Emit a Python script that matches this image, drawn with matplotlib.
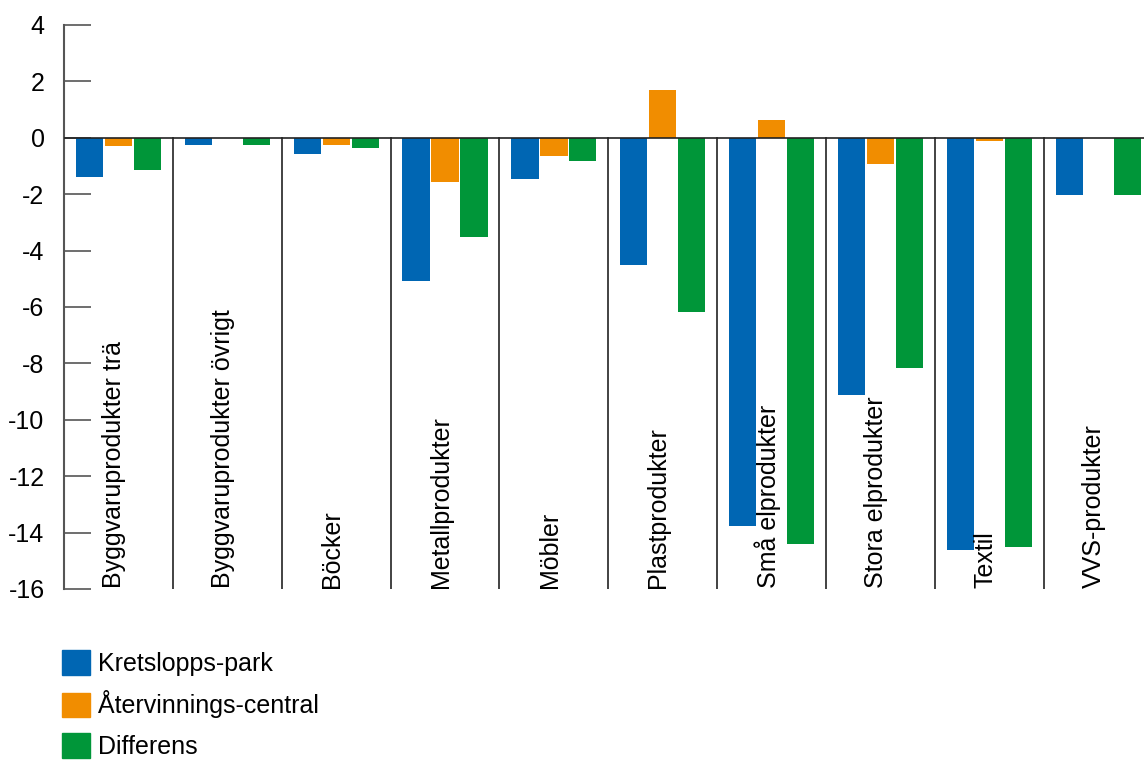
import matplotlib.pyplot as plt
import matplotlib.ticker as mticker
import numpy as np

categories = [
    "Byggvaruprodukter trä",
    "Byggvaruprodukter övrigt",
    "Böcker",
    "Metallprodukter",
    "Möbler",
    "Plastprodukter",
    "Små elprodukter",
    "Stora elprodukter",
    "Textil",
    "VVS-produkter",
]
kretslopps = [-1.38, -0.25, -0.57, -5.07, -1.45, -4.5, -13.78, -9.11, -14.6, -2.02]
atervinning = [-0.28, -0.02, -0.25, -1.58, -0.64, 1.7, 0.64, -0.92, -0.1, -0.01]
differens = [-1.13, -0.25, -0.35, -3.51, -0.82, -6.19, -14.42, -8.18, -14.5, -2.02]

series_names = ["Kretslopps-park", "Återvinnings-central", "Differens"]
colors = ["#0066B3", "#F18D00", "#009639"]

plt.rcParams["font.family"] = ["Liberation Sans", "DejaVu Sans"]

fig = plt.figure(figsize=(11.44, 7.6), dpi=100)
ax = fig.add_axes([64 / 1144, 171 / 760, 1080 / 1144, 564 / 760])

x = np.arange(len(categories))
width = 0.25
offset = 0.266
for i, (vals, name, c) in enumerate(zip([kretslopps, atervinning, differens], series_names, colors)):
    ax.bar(x + (i - 1) * offset, vals, width, color=c, label=name, zorder=2)

ax.set_ylim(-16, 4)
ax.set_xlim(-0.5, 9.42)
ax.set_yticks(np.arange(-16, 5, 2))
ax.yaxis.set_major_formatter(mticker.FuncFormatter(lambda v, p: f"{v:.0f}"))
ax.tick_params(axis="y", direction="in", length=19.5, width=1.2, color="#555555",
               labelsize=18, pad=14)
ax.set_xticks([])

for s in ["top", "right", "bottom"]:
    ax.spines[s].set_visible(False)
ax.spines["left"].set_color("#555555")
ax.spines["left"].set_linewidth(1.5)

ax.axhline(0, color="#222222", linewidth=1.2, zorder=3)
for b in x[1:] - 0.5:
    ax.plot([b, b], [0, -16], color="#222222", linewidth=1.2, zorder=1)

for xi, name in zip(x, categories):
    ax.text(xi - 0.04, -15.95, name, rotation=90, ha="center", va="bottom",
            fontsize=18, zorder=4)

handles = [plt.Rectangle((0, 0), 1, 1, color=c) for c in colors]
fig.legend(handles, series_names, loc="upper left", bbox_to_anchor=(52 / 1144, 1 - 640 / 760),
           frameon=False, fontsize=18, handlelength=1.1, handleheight=1.15,
           handletextpad=0.35, labelspacing=0.58, borderaxespad=0)

plt.savefig("out.png", dpi=100)
plt.close()
